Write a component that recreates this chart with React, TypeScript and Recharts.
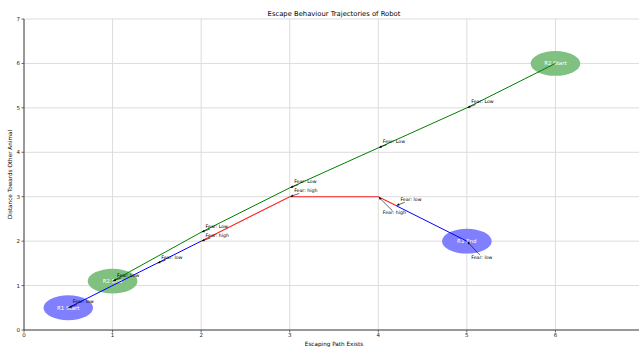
import React from 'react';
import {
  ComposedChart,
  Line,
  XAxis,
  YAxis,
  CartesianGrid,
  ReferenceArea,
  ReferenceLine,
} from 'recharts';

// ---------- data ----------
const xTicks = [0, 1, 2, 3, 4, 5, 6];
const yTicks = [0, 1, 2, 3, 4, 5, 6, 7];

// Robot 1, low-fear start segment (blue)
const r1StartX = [0.5, 1.5, 2];
const r1StartY = [0.5, 1.5, 2];
// Robot 1, high-fear segment (red)
const r1HighX = [2, 3, 4, 4.2];
const r1HighY = [2, 3, 3, 2.8];
// Robot 1, low-fear end segment (blue)
const r1EndX = [4.2, 5];
const r1EndY = [2.8, 2];
// Robot 2 path (green)
const r2X = [6, 5, 4, 3, 2, 1];
const r2Y = [6, 5, 4.1, 3.2, 2.2, 1.1];

// start / end markers
const markerNames = ['R1 Start', 'R1 End', 'R2 Start', 'R2 End'];
const markerX = [0.5, 5, 6, 1];
const markerY = [0.5, 2, 6, 1.1];
const markerColors = ['#8080ff', '#8080ff', '#80c080', '#80c080'];
const markerRadius = 0.28;

// fear annotations
const annLabels = [
  'Fear: low', 'Fear: Low', 'Fear: low', 'Fear: Low', 'Fear: high', 'Fear: Low',
  'Fear: high', 'Fear: Low', 'Fear: high', 'Fear: low', 'Fear: low', 'Fear: Low',
];
const annX = [0.5, 1, 1.5, 2, 2, 3, 3, 4, 4, 4.2, 5, 5];
const annY = [0.5, 1.1, 1.5, 2.2, 2, 3.2, 3, 4.1, 3, 2.8, 2, 5];
const annTextX = [0.55, 1.05, 1.55, 2.05, 2.05, 3.05, 3.05, 4.05, 4.05, 4.25, 5.05, 5.05];
const annTextY = [0.6, 1.2, 1.6, 2.3, 2.1, 3.3, 3.1, 4.2, 2.6, 2.9, 1.6, 5.1];

const toPoints = (xs: number[], ys: number[]) => xs.map((x, i) => ({ x, y: ys[i] }));

const FONT = 'DejaVu Sans, sans-serif';
const ANN_FS = 4.7;

function annotationShape(label: string) {
  return (p: any) => {
    const { x1, y1, x2, y2 } = p;
    if ([x1, y1, x2, y2].some((v) => typeof v !== 'number' || isNaN(v))) return <g />;
    const w = label.length * ANN_FS * 0.52;
    const left = x1 - 1;
    const right = x1 + w + 1;
    const top = y1 - ANN_FS * 0.8;
    const bottom = y1 + ANN_FS * 0.25;
    const cx = (left + right) / 2;
    const cy = (top + bottom) / 2;
    const dx = x2 - cx;
    const dy = y2 - cy;
    let t = 1;
    if (dx !== 0) {
      const tx = dx > 0 ? (right - cx) / dx : (left - cx) / dx;
      t = Math.min(t, tx);
    }
    if (dy !== 0) {
      const ty = dy > 0 ? (bottom - cy) / dy : (top - cy) / dy;
      t = Math.min(t, ty);
    }
    const sx = cx + dx * t;
    const sy = cy + dy * t;
    const len = Math.hypot(x2 - sx, y2 - sy);
    const ux = len > 0 ? (x2 - sx) / len : 0;
    const uy = len > 0 ? (y2 - sy) / len : 0;
    const ex = x2 - ux * 0.8;
    const ey = y2 - uy * 0.8;
    const hl = 2.6;
    const hw = 1.2;
    const bx = ex - ux * hl;
    const by = ey - uy * hl;
    const head = `${ex},${ey} ${bx - uy * hw},${by + ux * hw} ${bx + uy * hw},${by - ux * hw}`;
    return (
      <g>
        {len > 1.5 && (
          <line x1={sx} y1={sy} x2={ex} y2={ey} stroke="#000" strokeWidth={0.6} />
        )}
        {len > 1.5 && <polygon points={head} fill="#000" />}
        <text x={x1} y={y1} fontSize={ANN_FS} fontFamily={FONT} fill="#000">
          {label}
        </text>
      </g>
    );
  };
}

function markerShape(name: string, color: string) {
  return (p: any) => {
    const { x, y, width, height } = p;
    if ([x, y, width, height].some((v) => typeof v !== 'number' || isNaN(v))) return <g />;
    const cx = x + width / 2;
    const cy = y + height / 2;
    return (
      <g>
        <ellipse cx={cx} cy={cy} rx={Math.abs(width) / 2} ry={Math.abs(height) / 2} fill={color} />
        <text
          x={cx}
          y={cy}
          dy="0.35em"
          textAnchor="middle"
          fontSize={5.5}
          fontFamily={FONT}
          fill="#ffffff"
        >
          {name}
        </text>
      </g>
    );
  };
}

const tickStyle = { fontSize: 5.5, fontFamily: FONT, fill: '#222' };

export default function App() {
  return (
    <div
      style={{
        position: 'absolute',
        left: 0,
        top: 0,
        width: 639,
        height: 347,
        overflow: 'hidden',
        background: '#fff',
      }}
    >
      <div
        style={{
          position: 'absolute',
          left: 24,
          width: 620,
          top: 10,
          textAlign: 'center',
          fontFamily: FONT,
          fontSize: 6.8,
          lineHeight: '8px',
          color: '#000',
        }}
      >
        Escape Behaviour Trajectories of Robot
      </div>
      <ComposedChart
        width={660}
        height={347}
        margin={{ top: 19, right: 16, bottom: 0, left: 0 }}
      >
        <CartesianGrid stroke="#dcdcdc" strokeWidth={1} />
        <XAxis
          dataKey="x"
          type="number"
          domain={[0, 7]}
          ticks={xTicks}
          allowDataOverflow
          height={17}
          tickSize={2.5}
          tickMargin={1}
          tick={tickStyle}
          stroke="#444"
          axisLine={{ stroke: '#444', strokeWidth: 1 }}
          tickLine={{ stroke: '#444', strokeWidth: 0.8 }}
          label={{
            content: (props: any) => {
              const vb = props.viewBox || {};
              return (
                <text
                  x={vb.x + vb.width / 2}
                  y={346}
                  textAnchor="middle"
                  fontSize={5.7}
                  fontFamily={FONT}
                  fill="#000"
                >
                  Escaping Path Exists
                </text>
              );
            },
          }}
        />
        <YAxis
          dataKey="y"
          type="number"
          domain={[0, 7]}
          ticks={yTicks}
          allowDataOverflow
          width={24}
          tickSize={2.5}
          tickMargin={1.5}
          tick={tickStyle}
          stroke="#444"
          axisLine={{ stroke: '#444', strokeWidth: 1 }}
          tickLine={{ stroke: '#444', strokeWidth: 0.8 }}
          label={{
            content: (props: any) => {
              const vb = props.viewBox || {};
              const cy = vb.y + vb.height / 2;
              return (
                <text
                  x={10}
                  y={cy}
                  transform={`rotate(-90, 10, ${cy})`}
                  textAnchor="middle"
                  dy="0.35em"
                  fontSize={5.7}
                  fontFamily={FONT}
                  fill="#000"
                >
                  Distance Towards Other Animal
                </text>
              );
            },
          }}
        />
        {markerNames.map((name, i) => (
          <ReferenceArea
            key={name}
            x1={markerX[i] - markerRadius}
            x2={markerX[i] + markerRadius}
            y1={markerY[i] - markerRadius}
            y2={markerY[i] + markerRadius}
            ifOverflow="visible"
            shape={markerShape(name, markerColors[i])}
          />
        ))}
        <Line
          data={toPoints(r1StartX, r1StartY)}
          dataKey="y"
          type="linear"
          stroke="#0000ff"
          strokeWidth={1}
          dot={false}
          activeDot={false}
          isAnimationActive={false}
        />
        <Line
          data={toPoints(r1HighX, r1HighY)}
          dataKey="y"
          type="linear"
          stroke="#ff2020"
          strokeWidth={1.1}
          dot={false}
          activeDot={false}
          isAnimationActive={false}
        />
        <Line
          data={toPoints(r1EndX, r1EndY)}
          dataKey="y"
          type="linear"
          stroke="#0000ff"
          strokeWidth={1}
          dot={false}
          activeDot={false}
          isAnimationActive={false}
        />
        <Line
          data={toPoints(r2X, r2Y)}
          dataKey="y"
          type="linear"
          stroke="#008000"
          strokeWidth={1}
          dot={false}
          activeDot={false}
          isAnimationActive={false}
        />
        {annLabels.map((label, i) => (
          <ReferenceLine
            key={`ann-${i}`}
            segment={[
              { x: annTextX[i], y: annTextY[i] },
              { x: annX[i], y: annY[i] },
            ]}
            ifOverflow="visible"
            shape={annotationShape(label)}
          />
        ))}
      </ComposedChart>
    </div>
  );
}
